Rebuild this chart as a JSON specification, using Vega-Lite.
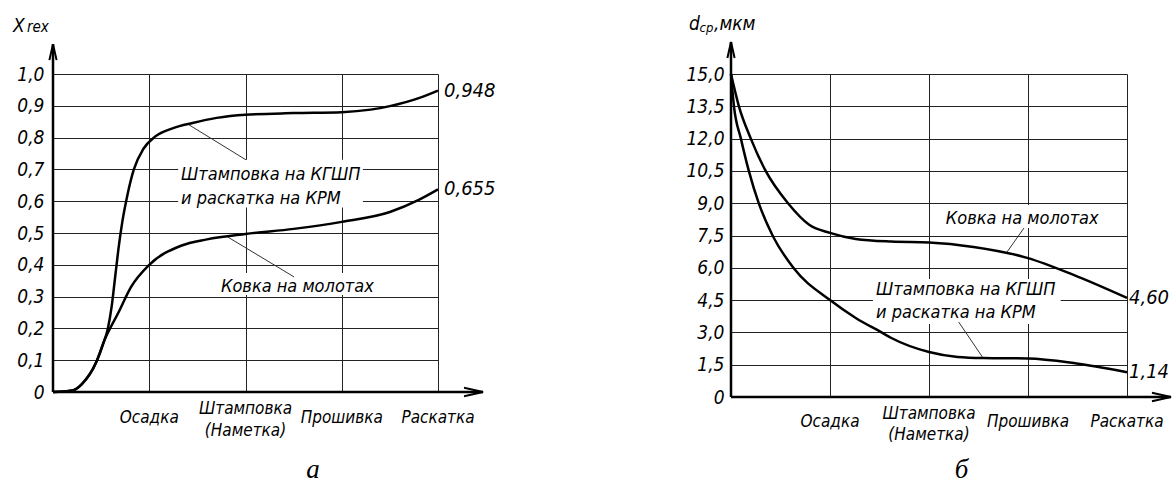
{
  "$schema": "https://vega.github.io/schema/vega-lite/v6.json",
  "background": "white",
  "padding": {"left": 12, "top": 14, "right": 0, "bottom": 0},
  "spacing": 293,
  "bounds": "flush",
  "config": {
    "view": {"stroke": null},
    "font": "DejaVu Sans Condensed, DejaVu Sans",
    "axis": {"gridColor": "#222", "gridWidth": 1, "gridOpacity": 1, "labelFont": "DejaVu Sans Condensed, DejaVu Sans", "labelFontStyle": "italic", "labelFontSize": 19, "labelColor": "#000", "ticks": false, "domain": false},
    "text": {"font": "DejaVu Sans Condensed, DejaVu Sans", "fontStyle": "italic", "color": "#000"}
  },
  "datasets": {
    "curvesA": [
      {"series": "Штамповка на КГШП и раскатка на КРМ", "x": 0, "y": 0},
      {"series": "Штамповка на КГШП и раскатка на КРМ", "x": 0.2, "y": 0.005},
      {"series": "Штамповка на КГШП и раскатка на КРМ", "x": 0.3, "y": 0.025},
      {"series": "Штамповка на КГШП и раскатка на КРМ", "x": 0.45, "y": 0.094},
      {"series": "Штамповка на КГШП и раскатка на КРМ", "x": 0.52, "y": 0.15},
      {"series": "Штамповка на КГШП и раскатка на КРМ", "x": 0.57, "y": 0.2},
      {"series": "Штамповка на КГШП и раскатка на КРМ", "x": 0.61, "y": 0.27},
      {"series": "Штамповка на КГШП и раскатка на КРМ", "x": 0.645, "y": 0.36},
      {"series": "Штамповка на КГШП и раскатка на КРМ", "x": 0.68, "y": 0.45},
      {"series": "Штамповка на КГШП и раскатка на КРМ", "x": 0.72, "y": 0.535},
      {"series": "Штамповка на КГШП и раскатка на КРМ", "x": 0.77, "y": 0.615},
      {"series": "Штамповка на КГШП и раскатка на КРМ", "x": 0.84, "y": 0.7},
      {"series": "Штамповка на КГШП и раскатка на КРМ", "x": 0.94, "y": 0.765},
      {"series": "Штамповка на КГШП и раскатка на КРМ", "x": 1.06, "y": 0.803},
      {"series": "Штамповка на КГШП и раскатка на КРМ", "x": 1.25, "y": 0.83},
      {"series": "Штамповка на КГШП и раскатка на КРМ", "x": 1.45, "y": 0.846},
      {"series": "Штамповка на КГШП и раскатка на КРМ", "x": 1.7, "y": 0.862},
      {"series": "Штамповка на КГШП и раскатка на КРМ", "x": 2.0, "y": 0.872},
      {"series": "Штамповка на КГШП и раскатка на КРМ", "x": 2.5, "y": 0.877},
      {"series": "Штамповка на КГШП и раскатка на КРМ", "x": 3.0, "y": 0.88},
      {"series": "Штамповка на КГШП и раскатка на КРМ", "x": 3.3, "y": 0.888},
      {"series": "Штамповка на КГШП и раскатка на КРМ", "x": 3.5, "y": 0.899},
      {"series": "Штамповка на КГШП и раскатка на КРМ", "x": 3.8, "y": 0.924},
      {"series": "Штамповка на КГШП и раскатка на КРМ", "x": 4.0, "y": 0.948},
      {"series": "Ковка на молотах", "x": 0, "y": 0},
      {"series": "Ковка на молотах", "x": 0.2, "y": 0.005},
      {"series": "Ковка на молотах", "x": 0.3, "y": 0.025},
      {"series": "Ковка на молотах", "x": 0.45, "y": 0.094},
      {"series": "Ковка на молотах", "x": 0.53, "y": 0.16},
      {"series": "Ковка на молотах", "x": 0.68, "y": 0.25},
      {"series": "Ковка на молотах", "x": 0.81, "y": 0.33},
      {"series": "Ковка на молотах", "x": 1.0, "y": 0.4},
      {"series": "Ковка на молотах", "x": 1.33, "y": 0.46},
      {"series": "Ковка на молотах", "x": 1.6, "y": 0.48},
      {"series": "Ковка на молотах", "x": 2.0, "y": 0.497},
      {"series": "Ковка на молотах", "x": 2.5, "y": 0.513},
      {"series": "Ковка на молотах", "x": 3.0, "y": 0.535},
      {"series": "Ковка на молотах", "x": 3.5, "y": 0.566},
      {"series": "Ковка на молотах", "x": 3.8, "y": 0.604},
      {"series": "Ковка на молотах", "x": 4.0, "y": 0.637}
    ],
    "curvesB": [
      {"series": "Ковка на молотах", "x": 0, "y": 15},
      {"series": "Ковка на молотах", "x": 0.08, "y": 13.5},
      {"series": "Ковка на молотах", "x": 0.2, "y": 12.0},
      {"series": "Ковка на молотах", "x": 0.35, "y": 10.5},
      {"series": "Ковка на молотах", "x": 0.576, "y": 9.0},
      {"series": "Ковка на молотах", "x": 0.79, "y": 8.0},
      {"series": "Ковка на молотах", "x": 1.0, "y": 7.62},
      {"series": "Ковка на молотах", "x": 1.26, "y": 7.34},
      {"series": "Ковка на молотах", "x": 1.62, "y": 7.22},
      {"series": "Ковка на молотах", "x": 2.0, "y": 7.18},
      {"series": "Ковка на молотах", "x": 2.45, "y": 6.97},
      {"series": "Ковка на молотах", "x": 3.0, "y": 6.45},
      {"series": "Ковка на молотах", "x": 3.46, "y": 5.67},
      {"series": "Ковка на молотах", "x": 4.0, "y": 4.6},
      {"series": "Штамповка на КГШП и раскатка на КРМ", "x": 0, "y": 15},
      {"series": "Штамповка на КГШП и раскатка на КРМ", "x": 0.03, "y": 13.5},
      {"series": "Штамповка на КГШП и раскатка на КРМ", "x": 0.1, "y": 12.0},
      {"series": "Штамповка на КГШП и раскатка на КРМ", "x": 0.18, "y": 10.5},
      {"series": "Штамповка на КГШП и раскатка на КРМ", "x": 0.28, "y": 9.0},
      {"series": "Штамповка на КГШП и раскатка на КРМ", "x": 0.42, "y": 7.5},
      {"series": "Штамповка на КГШП и раскатка на КРМ", "x": 0.63, "y": 6.0},
      {"series": "Штамповка на КГШП и раскатка на КРМ", "x": 1.0, "y": 4.5},
      {"series": "Штамповка на КГШП и раскатка на КРМ", "x": 1.26, "y": 3.67},
      {"series": "Штамповка на КГШП и раскатка на КРМ", "x": 1.52, "y": 3.0},
      {"series": "Штамповка на КГШП и раскатка на КРМ", "x": 1.62, "y": 2.74},
      {"series": "Штамповка на КГШП и раскатка на КРМ", "x": 2.0, "y": 2.09},
      {"series": "Штамповка на КГШП и раскатка на КРМ", "x": 2.29, "y": 1.86},
      {"series": "Штамповка на КГШП и раскатка на КРМ", "x": 2.55, "y": 1.81},
      {"series": "Штамповка на КГШП и раскатка на КРМ", "x": 3.0, "y": 1.79},
      {"series": "Штамповка на КГШП и раскатка на КРМ", "x": 3.46, "y": 1.58},
      {"series": "Штамповка на КГШП и раскатка на КРМ", "x": 4.0, "y": 1.15}
    ],
    "masksA": [
      {"x": 1.30, "x2": 3.22, "y": 0.73, "y2": 0.58},
      {"x": 1.70, "x2": 3.38, "y": 0.374, "y2": 0.305}
    ],
    "masksB": [
      {"x": 2.12, "x2": 3.81, "y": 8.92, "y2": 7.85},
      {"x": 1.434, "x2": 3.33, "y": 5.48, "y2": 3.39}
    ],
    "leadersA": [
      {"x": 1.403, "y": 0.842, "x2": 2.005, "y2": 0.73},
      {"x": 1.818, "y": 0.487, "x2": 2.504, "y2": 0.362}
    ],
    "leadersB": [
      {"x": 2.96, "y": 7.85, "x2": 2.78, "y2": 6.68},
      {"x": 2.30, "y": 3.48, "x2": 2.545, "y2": 1.82}
    ],
    "notesA": [
      {"x": 1.33, "y": 0.667, "text": "Штамповка на КГШП"},
      {"x": 1.33, "y": 0.591, "text": "и раскатка на КРМ"},
      {"x": 1.745, "y": 0.314, "text": "Ковка на молотах"}
    ],
    "notesB": [
      {"x": 2.17, "y": 8.04, "text": "Ковка на молотах"},
      {"x": 1.465, "y": 4.74, "text": "Штамповка на КГШП"},
      {"x": 1.465, "y": 3.67, "text": "и раскатка на КРМ"}
    ],
    "endsA": [
      {"x": 4, "y": 0.948, "text": "0,948"},
      {"x": 4, "y": 0.637, "text": "0,655"}
    ],
    "endsB": [
      {"x": 4, "y": 4.6, "text": "4,60"},
      {"x": 4, "y": 1.14, "text": "1,14"}
    ],
    "stages": [
      {"x": 1, "label": "Осадка"},
      {"x": 2, "label": "Штамповка\n(Наметка)"},
      {"x": 3, "label": "Прошивка"},
      {"x": 4, "label": "Раскатка"}
    ]
  },
  "hconcat": [
    {
      "width": 385,
      "height": 318,
      "layer": [
        {"data": {"name": "curvesA"}, "mark": {"type": "line", "interpolate": "monotone", "stroke": "#000", "strokeWidth": 2.5, "opacity": 0},
         "encoding": {
           "x": {"field": "x", "type": "quantitative", "title": null, "scale": {"domain": [0, 4], "nice": false, "zero": false}, "axis": {"values": [1, 2, 3, 4], "tickCount": 20, "grid": true, "labels": false, "title": null}},
           "y": {"field": "y", "type": "quantitative", "title": null, "scale": {"domain": [0, 1], "nice": false, "zero": false}, "axis": {"values": [0, 0.1, 0.2, 0.3, 0.4, 0.5, 0.6, 0.7, 0.8, 0.9, 1], "tickCount": 20, "labelOverlap": false, "grid": true, "title": null, "labelPadding": 9, "labelExpr": "datum.value == 0 ? '0' : replace(format(datum.value, '.1f'), '.', ',')"}},
           "detail": {"field": "series"}}},
        {"data": {"name": "masksA"}, "mark": {"type": "rect", "fill": "white"},
         "encoding": {"x": {"field": "x", "type": "quantitative", "title": null, "scale": {"domain": [0, 4], "nice": false, "zero": false}}, "x2": {"field": "x2"}, "y": {"field": "y", "type": "quantitative", "title": null, "scale": {"domain": [0, 1], "nice": false, "zero": false}}, "y2": {"field": "y2"}}},
        {"data": {"name": "leadersA"}, "mark": {"type": "rule", "stroke": "#333", "strokeWidth": 1},
         "encoding": {"x": {"field": "x", "type": "quantitative", "title": null, "scale": {"domain": [0, 4], "nice": false, "zero": false}}, "x2": {"field": "x2"}, "y": {"field": "y", "type": "quantitative", "title": null, "scale": {"domain": [0, 1], "nice": false, "zero": false}}, "y2": {"field": "y2"}}},
        {"data": {"name": "curvesA"}, "mark": {"type": "line", "interpolate": "monotone", "stroke": "#000", "strokeWidth": 2.5},
         "encoding": {"x": {"field": "x", "type": "quantitative", "title": null, "scale": {"domain": [0, 4], "nice": false, "zero": false}}, "y": {"field": "y", "type": "quantitative", "title": null, "scale": {"domain": [0, 1], "nice": false, "zero": false}}, "detail": {"field": "series"}}},
        {"data": {"values": [{}]}, "mark": {"type": "rule", "stroke": "#000", "strokeWidth": 2.5},
         "encoding": {"x": {"datum": 0, "type": "quantitative", "title": null, "scale": {"domain": [0, 4], "nice": false, "zero": false}}, "y": {"datum": 0, "type": "quantitative", "title": null, "scale": {"domain": [0, 1], "nice": false, "zero": false}}, "y2": {"datum": 1.094}}},
        {"data": {"values": [{}]}, "mark": {"type": "rule", "stroke": "#000", "strokeWidth": 2.5},
         "encoding": {"x": {"datum": 0, "type": "quantitative", "title": null, "scale": {"domain": [0, 4], "nice": false, "zero": false}}, "x2": {"datum": 4.468}, "y": {"datum": 0, "type": "quantitative", "title": null, "scale": {"domain": [0, 1], "nice": false, "zero": false}}}},
        {"data": {"values": [{}]}, "mark": {"type": "point", "shape": "M-0.45,2L0,0L0.45,2", "size": 256, "filled": false, "stroke": "#000", "strokeWidth": 2, "opacity": 1},
         "encoding": {"x": {"datum": 0, "type": "quantitative", "title": null, "scale": {"domain": [0, 4], "nice": false, "zero": false}}, "y": {"datum": 1.094, "type": "quantitative", "title": null, "scale": {"domain": [0, 1], "nice": false, "zero": false}}}},
        {"data": {"values": [{}]}, "mark": {"type": "point", "shape": "M-2,-0.45L0,0L-2,0.45", "size": 361, "filled": false, "stroke": "#000", "strokeWidth": 2, "opacity": 1},
         "encoding": {"x": {"datum": 4.468, "type": "quantitative", "title": null, "scale": {"domain": [0, 4], "nice": false, "zero": false}}, "y": {"datum": 0, "type": "quantitative", "title": null, "scale": {"domain": [0, 1], "nice": false, "zero": false}}}},
        {"data": {"name": "notesA"}, "mark": {"type": "text", "align": "left", "baseline": "alphabetic", "fontSize": 18},
         "encoding": {"x": {"field": "x", "type": "quantitative", "title": null, "scale": {"domain": [0, 4], "nice": false, "zero": false}}, "y": {"field": "y", "type": "quantitative", "title": null, "scale": {"domain": [0, 1], "nice": false, "zero": false}}, "text": {"field": "text"}}},
        {"data": {"name": "endsA"}, "mark": {"type": "text", "align": "left", "baseline": "middle", "fontSize": 20, "dx": 6},
         "encoding": {"x": {"field": "x", "type": "quantitative", "title": null, "scale": {"domain": [0, 4], "nice": false, "zero": false}}, "y": {"field": "y", "type": "quantitative", "title": null, "scale": {"domain": [0, 1], "nice": false, "zero": false}}, "text": {"field": "text"}}},
        {"data": {"name": "stages"}, "transform": [{"filter": "indexof(datum.label, '\\n') < 0"}], "mark": {"type": "text", "align": "center", "baseline": "middle", "fontSize": 17},
         "encoding": {"x": {"field": "x", "type": "quantitative", "title": null, "scale": {"domain": [0, 4], "nice": false, "zero": false}}, "y": {"datum": -0.082, "type": "quantitative", "title": null, "scale": {"domain": [0, 1], "nice": false, "zero": false}}, "text": {"field": "label"}}},
        {"data": {"name": "stages"}, "transform": [{"filter": "indexof(datum.label, '\\n') >= 0"}], "mark": {"type": "text", "align": "center", "baseline": "middle", "fontSize": 17, "lineBreak": "\n", "lineHeight": 22, "dy": -9},
         "encoding": {"x": {"field": "x", "type": "quantitative", "title": null, "scale": {"domain": [0, 4], "nice": false, "zero": false}}, "y": {"datum": -0.082, "type": "quantitative", "title": null, "scale": {"domain": [0, 1], "nice": false, "zero": false}}, "text": {"field": "label"}}},
        {"data": {"values": [{}]}, "mark": {"type": "text", "align": "left", "baseline": "alphabetic", "fontSize": 19},
         "encoding": {"x": {"datum": -0.416, "type": "quantitative", "title": null, "scale": {"domain": [0, 4], "nice": false, "zero": false}}, "y": {"datum": 1.132, "type": "quantitative", "title": null, "scale": {"domain": [0, 1], "nice": false, "zero": false}}, "text": {"value": "X"}}},
        {"data": {"values": [{}]}, "mark": {"type": "text", "align": "left", "baseline": "alphabetic", "fontSize": 15},
         "encoding": {"x": {"datum": -0.27, "type": "quantitative", "title": null, "scale": {"domain": [0, 4], "nice": false, "zero": false}}, "y": {"datum": 1.132, "type": "quantitative", "title": null, "scale": {"domain": [0, 1], "nice": false, "zero": false}}, "text": {"value": "rex"}}},
        {"data": {"values": [{}]}, "mark": {"type": "text", "align": "center", "baseline": "alphabetic", "fontSize": 27, "font": "Liberation Serif", "fontStyle": "italic"},
         "encoding": {"x": {"datum": 2.7, "type": "quantitative", "title": null, "scale": {"domain": [0, 4], "nice": false, "zero": false}}, "y": {"datum": -0.27, "type": "quantitative", "title": null, "scale": {"domain": [0, 1], "nice": false, "zero": false}}, "text": {"value": "а"}}}
      ]
    },
    {
      "width": 396,
      "height": 323,
      "layer": [
        {"data": {"name": "curvesB"}, "mark": {"type": "line", "interpolate": "monotone", "stroke": "#000", "strokeWidth": 2.5, "opacity": 0},
         "encoding": {
           "x": {"field": "x", "type": "quantitative", "title": null, "scale": {"domain": [0, 4], "nice": false, "zero": false}, "axis": {"values": [1, 2, 3, 4], "tickCount": 20, "grid": true, "labels": false, "title": null}},
           "y": {"field": "y", "type": "quantitative", "title": null, "scale": {"domain": [0, 15], "nice": false, "zero": false}, "axis": {"values": [0, 1.5, 3, 4.5, 6, 7.5, 9, 10.5, 12, 13.5, 15], "tickCount": 20, "labelOverlap": false, "grid": true, "title": null, "labelPadding": 7, "labelExpr": "datum.value == 0 ? '0' : replace(format(datum.value, '.1f'), '.', ',')"}},
           "detail": {"field": "series"}}},
        {"data": {"name": "masksB"}, "mark": {"type": "rect", "fill": "white"},
         "encoding": {"x": {"field": "x", "type": "quantitative", "title": null, "scale": {"domain": [0, 4], "nice": false, "zero": false}}, "x2": {"field": "x2"}, "y": {"field": "y", "type": "quantitative", "title": null, "scale": {"domain": [0, 15], "nice": false, "zero": false}}, "y2": {"field": "y2"}}},
        {"data": {"name": "leadersB"}, "mark": {"type": "rule", "stroke": "#333", "strokeWidth": 1},
         "encoding": {"x": {"field": "x", "type": "quantitative", "title": null, "scale": {"domain": [0, 4], "nice": false, "zero": false}}, "x2": {"field": "x2"}, "y": {"field": "y", "type": "quantitative", "title": null, "scale": {"domain": [0, 15], "nice": false, "zero": false}}, "y2": {"field": "y2"}}},
        {"data": {"name": "curvesB"}, "mark": {"type": "line", "interpolate": "monotone", "stroke": "#000", "strokeWidth": 2.5},
         "encoding": {"x": {"field": "x", "type": "quantitative", "title": null, "scale": {"domain": [0, 4], "nice": false, "zero": false}}, "y": {"field": "y", "type": "quantitative", "title": null, "scale": {"domain": [0, 15], "nice": false, "zero": false}}, "detail": {"field": "series"}}},
        {"data": {"values": [{}]}, "mark": {"type": "rule", "stroke": "#000", "strokeWidth": 2.5},
         "encoding": {"x": {"datum": 0, "type": "quantitative", "title": null, "scale": {"domain": [0, 4], "nice": false, "zero": false}}, "y": {"datum": 0, "type": "quantitative", "title": null, "scale": {"domain": [0, 15], "nice": false, "zero": false}}, "y2": {"datum": 16.49}}},
        {"data": {"values": [{}]}, "mark": {"type": "rule", "stroke": "#000", "strokeWidth": 2.5},
         "encoding": {"x": {"datum": 0, "type": "quantitative", "title": null, "scale": {"domain": [0, 4], "nice": false, "zero": false}}, "x2": {"datum": 4.444}, "y": {"datum": 0, "type": "quantitative", "title": null, "scale": {"domain": [0, 15], "nice": false, "zero": false}}}},
        {"data": {"values": [{}]}, "mark": {"type": "point", "shape": "M-0.45,2L0,0L0.45,2", "size": 256, "filled": false, "stroke": "#000", "strokeWidth": 2, "opacity": 1},
         "encoding": {"x": {"datum": 0, "type": "quantitative", "title": null, "scale": {"domain": [0, 4], "nice": false, "zero": false}}, "y": {"datum": 16.49, "type": "quantitative", "title": null, "scale": {"domain": [0, 15], "nice": false, "zero": false}}}},
        {"data": {"values": [{}]}, "mark": {"type": "point", "shape": "M-2,-0.45L0,0L-2,0.45", "size": 361, "filled": false, "stroke": "#000", "strokeWidth": 2, "opacity": 1},
         "encoding": {"x": {"datum": 4.444, "type": "quantitative", "title": null, "scale": {"domain": [0, 4], "nice": false, "zero": false}}, "y": {"datum": 0, "type": "quantitative", "title": null, "scale": {"domain": [0, 15], "nice": false, "zero": false}}}},
        {"data": {"name": "notesB"}, "mark": {"type": "text", "align": "left", "baseline": "alphabetic", "fontSize": 18},
         "encoding": {"x": {"field": "x", "type": "quantitative", "title": null, "scale": {"domain": [0, 4], "nice": false, "zero": false}}, "y": {"field": "y", "type": "quantitative", "title": null, "scale": {"domain": [0, 15], "nice": false, "zero": false}}, "text": {"field": "text"}}},
        {"data": {"name": "endsB"}, "mark": {"type": "text", "align": "left", "baseline": "middle", "fontSize": 20, "dx": 2},
         "encoding": {"x": {"field": "x", "type": "quantitative", "title": null, "scale": {"domain": [0, 4], "nice": false, "zero": false}}, "y": {"field": "y", "type": "quantitative", "title": null, "scale": {"domain": [0, 15], "nice": false, "zero": false}}, "text": {"field": "text"}}},
        {"data": {"name": "stages"}, "transform": [{"filter": "indexof(datum.label, '\\n') < 0"}], "mark": {"type": "text", "align": "center", "baseline": "middle", "fontSize": 17},
         "encoding": {"x": {"field": "x", "type": "quantitative", "title": null, "scale": {"domain": [0, 4], "nice": false, "zero": false}}, "y": {"datum": -1.161, "type": "quantitative", "title": null, "scale": {"domain": [0, 15], "nice": false, "zero": false}}, "text": {"field": "label"}}},
        {"data": {"name": "stages"}, "transform": [{"filter": "indexof(datum.label, '\\n') >= 0"}], "mark": {"type": "text", "align": "center", "baseline": "middle", "fontSize": 17, "lineBreak": "\n", "lineHeight": 21, "dy": -8},
         "encoding": {"x": {"field": "x", "type": "quantitative", "title": null, "scale": {"domain": [0, 4], "nice": false, "zero": false}}, "y": {"datum": -1.161, "type": "quantitative", "title": null, "scale": {"domain": [0, 15], "nice": false, "zero": false}}, "text": {"field": "label"}}},
        {"data": {"values": [{}]}, "mark": {"type": "text", "align": "left", "baseline": "alphabetic", "fontSize": 19},
         "encoding": {"x": {"datum": -0.424, "type": "quantitative", "title": null, "scale": {"domain": [0, 4], "nice": false, "zero": false}}, "y": {"datum": 17.05, "type": "quantitative", "title": null, "scale": {"domain": [0, 15], "nice": false, "zero": false}}, "text": {"value": "d"}}},
        {"data": {"values": [{}]}, "mark": {"type": "text", "align": "left", "baseline": "alphabetic", "fontSize": 13},
         "encoding": {"x": {"datum": -0.318, "type": "quantitative", "title": null, "scale": {"domain": [0, 4], "nice": false, "zero": false}}, "y": {"datum": 16.95, "type": "quantitative", "title": null, "scale": {"domain": [0, 15], "nice": false, "zero": false}}, "text": {"value": "ср"}}},
        {"data": {"values": [{}]}, "mark": {"type": "text", "align": "left", "baseline": "alphabetic", "fontSize": 19},
         "encoding": {"x": {"datum": -0.172, "type": "quantitative", "title": null, "scale": {"domain": [0, 4], "nice": false, "zero": false}}, "y": {"datum": 17.05, "type": "quantitative", "title": null, "scale": {"domain": [0, 15], "nice": false, "zero": false}}, "text": {"value": ",мкм"}}},
        {"data": {"values": [{}]}, "mark": {"type": "text", "align": "center", "baseline": "alphabetic", "fontSize": 27, "font": "Liberation Serif", "fontStyle": "italic"},
         "encoding": {"x": {"datum": 2.33, "type": "quantitative", "title": null, "scale": {"domain": [0, 4], "nice": false, "zero": false}}, "y": {"datum": -3.76, "type": "quantitative", "title": null, "scale": {"domain": [0, 15], "nice": false, "zero": false}}, "text": {"value": "б"}}}
      ]
    }
  ]
}
